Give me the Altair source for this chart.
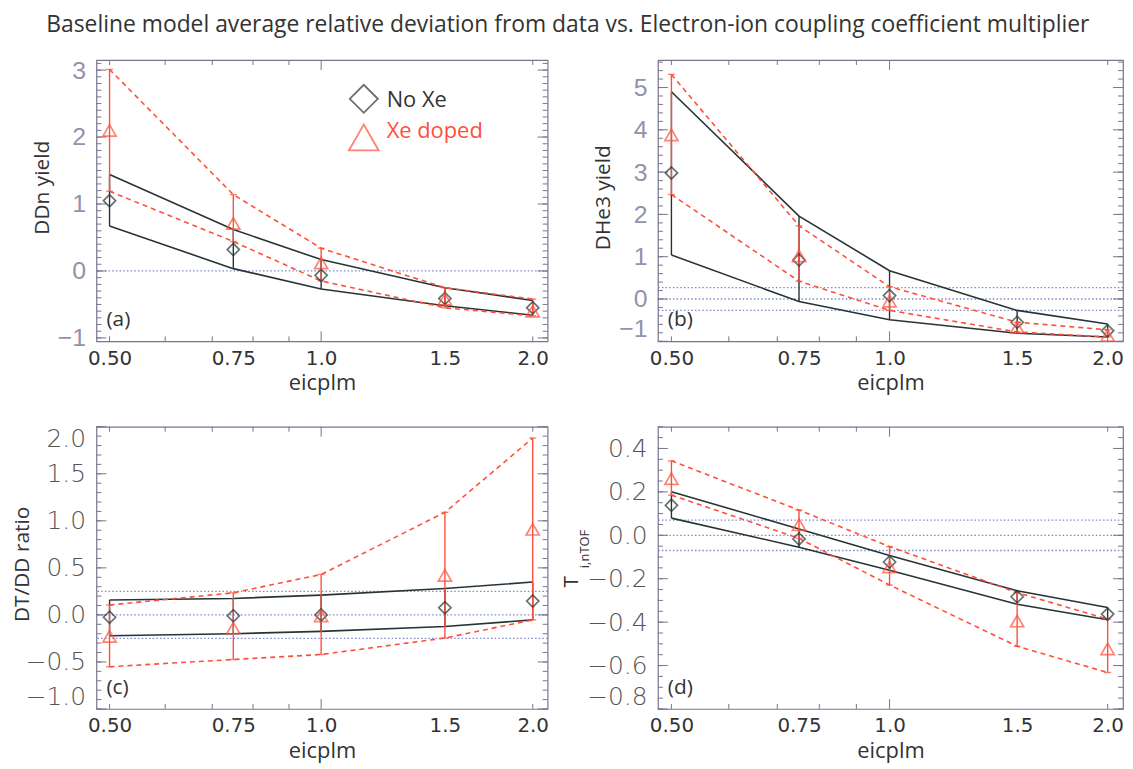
import altair as alt
import pandas as pd

# ---------------- data ----------------
eicplm = [0.5, 0.75, 1.0, 1.5, 2.0]

x_tick_values = [0.5, 0.75, 1.0, 1.5, 2.0]
x_tick_labels = ["0.50", "0.75", "1.0", "1.5", "2.0"]
x_minor_ticks = [0.5, 0.6, 0.7, 0.8, 0.9, 2.0]
x_major_ticks = [1.0]
x_title = "eicplm"
series_names = ["No Xe", "Xe doped"]
panel_letters = ["(a)", "(b)", "(c)", "(d)"]
y_titles = ["DDn yield", "DHe3 yield", "DT/DD ratio", "T"]
d_title_subscript = "i,nTOF"
chart_title = ("Baseline model average relative deviation from data vs. "
               "Electron-ion coupling coefficient multiplier")

# (a) DDn yield
a_noxe    = [1.05, 0.32, -0.065, -0.41, -0.55]
a_noxe_lo = [0.67, 0.035, -0.27, -0.52, -0.66]
a_noxe_hi = [1.44, 0.62, 0.17, -0.25, -0.44]
a_xe      = [2.10, 0.71, 0.12, -0.42, -0.60]
a_xe_lo   = [1.19, 0.44, -0.15, -0.55, -0.67]
a_xe_hi   = [3.01, 1.14, 0.34, -0.25, -0.42]
a_ref     = [0.0]
a_yticks  = [-1, 0, 1, 2, 3]
a_ydomain = [-1.05, 3.15]

# (b) DHe3 yield
b_noxe    = [2.98, 0.92, 0.08, -0.55, -0.75]
b_noxe_lo = [1.04, -0.06, -0.49, -0.81, -0.90]
b_noxe_hi = [4.90, 1.96, 0.67, -0.27, -0.59]
b_xe      = [3.88, 1.02, -0.05, -0.67, -0.86]
b_xe_lo   = [2.47, 0.42, -0.27, -0.78, -0.90]
b_xe_hi   = [5.31, 1.73, 0.29, -0.55, -0.73]
b_ref     = [-0.27, 0.0, 0.27]
b_yticks  = [-1, 0, 1, 2, 3, 4, 5]
b_ydomain = [-1.0, 5.65]

# (c) DT/DD ratio
c_noxe    = [-0.025, -0.01, 0.0, 0.077, 0.147]
c_noxe_lo = [-0.221, -0.20, -0.175, -0.123, -0.053]
c_noxe_hi = [0.158, 0.175, 0.21, 0.28, 0.35]
c_xe      = [-0.228, -0.14, -0.01, 0.42, 0.91]
c_xe_lo   = [-0.551, -0.474, -0.421, -0.246, -0.053]
c_xe_hi   = [0.105, 0.235, 0.43, 1.09, 1.88]
c_ref     = [-0.25, 0.0, 0.25]
c_yticks  = [-1.0, -0.5, 0.0, 0.5, 1.0, 1.5, 2.0]
c_ydomain = [-1.0, 2.0]

# (d) T_i,nTOF
d_noxe    = [0.138, -0.017, -0.123, -0.283, -0.363]
d_noxe_lo = [0.079, -0.055, -0.161, -0.318, -0.389]
d_noxe_hi = [0.201, 0.029, -0.093, -0.255, -0.333]
d_xe      = [0.261, 0.049, -0.146, -0.395, -0.523]
d_xe_lo   = [0.185, -0.014, -0.229, -0.511, -0.632]
d_xe_hi   = [0.343, 0.116, -0.052, -0.264, -0.386]
d_ref     = [-0.07, 0.0, 0.07]
d_yticks  = [-0.8, -0.6, -0.4, -0.2, 0.0, 0.2, 0.4]
d_ydomain = [-0.8, 0.5]

# ---------------- style ----------------
BLACK = "#263436"
RED = "#ff4f3a"
REF = "#7c88cc"
FRAME = "#78758f"
TXT = "#333333"
X_DOMAIN = [0.479, 2.1]


def minor_ticks(dom, step):
    n0 = int(round(dom[0] / step)) - 1
    n1 = int(round(dom[1] / step)) + 1
    vals = [round(k * step, 4) for k in range(n0, n1 + 1)]
    return [v for v in vals if dom[0] <= v <= dom[1]]


label_expr = " : ".join(
    f"datum.value == {v} ? '{l}'" for v, l in zip(x_tick_values, x_tick_labels)
) + " : ''"


def panel(idx, noxe, noxe_lo, noxe_hi, xe, xe_lo, xe_hi, refs, ydom, ymaj,
          ystep, yfmt, W, H, lfont, lcolor, lweight, tx, ty, legend=False):
    df = pd.DataFrame({"x": eicplm, "n": noxe, "nlo": noxe_lo, "nhi": noxe_hi,
                       "r": xe, "rlo": xe_lo, "rhi": xe_hi})
    xsc = alt.Scale(type="log", domain=X_DOMAIN, nice=False)
    ysc = alt.Scale(domain=ydom, nice=False, zero=False)
    xax = alt.Axis(values=x_tick_values, labelExpr=label_expr, ticks=False,
                   domain=False, grid=False, labelFont="DejaVu Sans",
                   labelFontSize=20, labelColor=TXT, labelPadding=7,
                   labelFlush=False, labelOverlap=False, title=x_title,
                   titleFont="Open Sans", titleFontSize=22,
                   titleFontWeight="normal", titleColor=TXT, titlePadding=5)
    yargs = dict(values=ymaj, format=yfmt, ticks=False, domain=False,
                 grid=False, labelFont=lfont, labelFontSize=25,
                 labelColor=lcolor, labelFontWeight=lweight, labelPadding=11,
                 labelFlush=True, labelOverlap=False)
    if y_titles[idx] != "T":
        yargs.update(title=y_titles[idx], titleAngle=270, titleAlign="center",
                     titleBaseline="middle", titleX=tx, titleY=ty,
                     titleFont="Open Sans", titleFontSize=21,
                     titleFontWeight="normal", titleColor=TXT)
    else:
        yargs.update(title=None)
    yax = alt.Axis(**yargs)

    def X(f):
        return alt.X(f, type="quantitative", scale=xsc, axis=xax)

    def Y(f):
        return alt.Y(f, type="quantitative", scale=ysc, axis=yax)

    base = alt.Chart(df)
    layers = []
    # dotted reference lines
    layers.append(alt.Chart(pd.DataFrame({"v": refs})).mark_rule(
        color=REF, strokeDash=[1.5, 2.2], strokeWidth=1.3).encode(y=Y("v")))
    # frame ticks (inside)
    ymin = minor_ticks(ydom, ystep)
    for vals, ln in ((ymin, 5), (ymaj, 10)):
        tdf = pd.DataFrame({"v": vals})
        layers.append(alt.Chart(tdf).mark_rule(color=FRAME, strokeWidth=1).encode(
            y=Y("v"), x=alt.value(0), x2=alt.value(ln)))
        layers.append(alt.Chart(tdf).mark_rule(color=FRAME, strokeWidth=1).encode(
            y=Y("v"), x=alt.value(W), x2=alt.value(W - ln)))
    for vals, ln in ((x_minor_ticks, 5), (x_major_ticks, 10)):
        tdf = pd.DataFrame({"v": vals})
        layers.append(alt.Chart(tdf).mark_rule(color=FRAME, strokeWidth=1).encode(
            x=X("v"), y=alt.value(0), y2=alt.value(ln)))
        layers.append(alt.Chart(tdf).mark_rule(color=FRAME, strokeWidth=1).encode(
            x=X("v"), y=alt.value(H), y2=alt.value(H - ln)))
    # model envelopes
    for f in ("nhi", "nlo"):
        layers.append(base.mark_line(color=BLACK, strokeWidth=1.6).encode(
            x=X("x"), y=Y(f)))
    for f in ("rhi", "rlo"):
        layers.append(base.mark_line(color=RED, strokeWidth=1.6,
                                     strokeDash=[5, 4]).encode(x=X("x"), y=Y(f)))
    # error bars
    layers.append(base.mark_rule(color=BLACK, strokeWidth=1.4).encode(
        x=X("x"), y=Y("nlo"), y2="nhi"))
    layers.append(base.mark_rule(color=RED, strokeWidth=1.4).encode(
        x=X("x"), y=Y("rlo"), y2="rhi"))
    for f in ("rlo", "rhi"):
        layers.append(base.mark_tick(color=RED, orient="horizontal", size=7,
                                     thickness=1.4).encode(x=X("x"), y=Y(f)))
    # markers
    layers.append(base.mark_point(shape="diamond", size=150, filled=False,
                                  color=BLACK, strokeWidth=1.7).encode(
        x=X("x"), y=Y("n")))
    layers.append(base.mark_point(shape="triangle-up", size=175, filled=False,
                                  color=RED, strokeWidth=1.7).encode(
        x=X("x"), y=Y("r")))
    # panel letter
    layers.append(alt.Chart(pd.DataFrame({"t": [panel_letters[idx]]})).mark_text(
        font="Open Sans", fontSize=21, color=TXT, align="left",
        baseline="middle").encode(text="t:N", x=alt.value(10),
                                   y=alt.value(H - 21)))
    if legend:
        ldf0 = pd.DataFrame({"t": [series_names[0]]})
        ldf1 = pd.DataFrame({"t": [series_names[1]]})
        layers.append(alt.Chart(ldf0).mark_point(
            shape="diamond", size=800, filled=False, color=BLACK,
            strokeWidth=1.8).encode(x=alt.value(269), y=alt.value(39)))
        layers.append(alt.Chart(ldf1).mark_point(
            shape="triangle-up", size=900, filled=False, color=RED,
            strokeWidth=1.8).encode(x=alt.value(269), y=alt.value(78)))
        layers.append(alt.Chart(ldf0).mark_text(
            font="Open Sans", fontSize=22, color=TXT, align="left",
            baseline="middle").encode(text="t:N", x=alt.value(292),
                                      y=alt.value(40)))
        layers.append(alt.Chart(ldf1).mark_text(
            font="Open Sans", fontSize=22, color=RED, align="left",
            baseline="middle").encode(text="t:N", x=alt.value(292),
                                      y=alt.value(71)))
    if y_titles[idx] == "T":
        layers.append(alt.Chart(pd.DataFrame({"t": [y_titles[idx]]})).mark_text(
            font="Open Sans", fontSize=21, color=TXT, angle=270, align="center",
            baseline="middle").encode(text="t:N", x=alt.value(tx),
                                      y=alt.value(ty)))
        layers.append(alt.Chart(pd.DataFrame({"t": [d_title_subscript]})).mark_text(
            font="Open Sans", fontSize=13, color=TXT, angle=270, align="center",
            baseline="middle").encode(text="t:N", x=alt.value(tx + 13),
                                      y=alt.value(ty - 33)))
    return alt.layer(*layers).properties(width=W, height=H)


LIGHT = "#9391ab"
DARK = "#555555"
pa = panel(0, a_noxe, a_noxe_lo, a_noxe_hi, a_xe, a_xe_lo, a_xe_hi, a_ref,
           a_ydomain, a_yticks, 0.1, "d", 454, 283, "Liberation Sans", LIGHT,
           "normal", -54, 128, legend=True)
pb = panel(1, b_noxe, b_noxe_lo, b_noxe_hi, b_xe, b_xe_lo, b_xe_hi, b_ref,
           b_ydomain, b_yticks, 0.2, "d", 468, 283, "Liberation Sans", LIGHT,
           "normal", -55, 138)
pc = panel(2, c_noxe, c_noxe_lo, c_noxe_hi, c_xe, c_xe_lo, c_xe_hi, c_ref,
           c_ydomain, c_yticks, 0.1, ".1f", 454, 284, "DejaVu Sans", DARK,
           200, -74, 138)
pd_ = panel(3, d_noxe, d_noxe_lo, d_noxe_hi, d_xe, d_xe_lo, d_xe_hi, d_ref,
            d_ydomain, d_yticks, 0.05, ".1f", 468, 284, "DejaVu Sans", DARK,
            200, -86, 156)

chart = alt.concat(pa, pb, pc, pd_, columns=2, spacing={"row": 30, "column": 11},
                   align="each").properties(
    title=alt.TitleParams(chart_title, font="Open Sans", fontSize=23,
                          fontWeight="normal", color=TXT, anchor="middle",
                          offset=21),
    padding={"left": 3, "top": 3, "right": 0, "bottom": 0},
).configure_view(stroke=FRAME, strokeWidth=1.2)

chart.save("out.html", embed_options={"renderer": "svg", "actions": False})
